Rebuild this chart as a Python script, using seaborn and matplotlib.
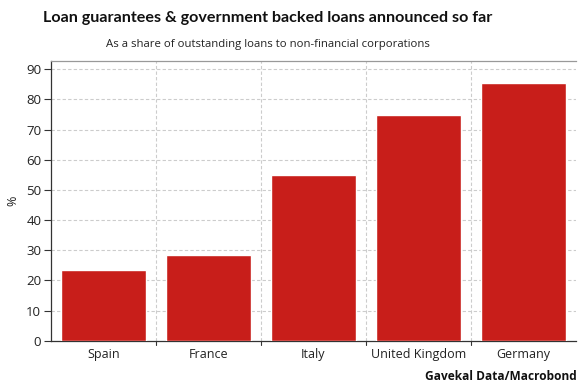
import matplotlib
matplotlib.use("Agg")
import matplotlib.pyplot as plt
import seaborn as sns
import pandas as pd

countries = ["Spain", "France", "Italy", "United Kingdom", "Germany"]
share_pct = [23.5, 28.5, 55.0, 74.7, 85.5]
y_ticks = [0, 10, 20, 30, 40, 50, 60, 70, 80, 90]

sns.set_theme(style="white")
plt.rcParams["font.family"] = ["Open Sans", "DejaVu Sans"]

df = pd.DataFrame({"country": countries, "share": share_pct})

fig = plt.figure(figsize=(5.78, 3.83), dpi=100)
ax = fig.add_axes([0.0882, 0.1104, 0.9083, 0.7311])

sns.barplot(data=df, x="country", y="share", color="#C81E1A", saturation=1,
            width=0.81, ax=ax, zorder=3)

ax.set_xlim(-0.5, len(countries) - 0.5)
ax.set_ylim(0, 92.8)
ax.set_yticks(y_ticks)
ax.set_yticklabels([str(t) for t in y_ticks], fontsize=9.5, color="#222222")
ax.set_xticks(range(len(countries)))
ax.set_xticklabels(countries, fontsize=9, color="#222222")
ax.tick_params(axis="x", length=0, pad=5)
ax.tick_params(axis="y", left=True, length=5, width=0.8, color="#333333", pad=2)

# category separators: dashed vertical gridlines with small ticks on the axis
boundaries = [i + 0.5 for i in range(len(countries) - 1)]
for b in boundaries:
    ax.axvline(b, color="#cccccc", linestyle=(0, (3, 2)), linewidth=0.8, zorder=1)
    ax.plot([b, b], [0, -1.3], color="#333333", linewidth=0.8, clip_on=False, zorder=4)

for t in y_ticks[1:]:
    ax.axhline(t, color="#cccccc", linestyle=(0, (3, 2)), linewidth=0.8, zorder=1)

for side in ["left", "bottom"]:
    ax.spines[side].set_color("#333333")
    ax.spines[side].set_linewidth(0.9)
ax.spines["top"].set_color("#999999")
ax.spines["top"].set_linewidth(0.9)
ax.spines["right"].set_visible(False)

ax.set_xlabel("")
ax.set_ylabel("%", fontsize=9, color="#222222", labelpad=5)

fig.text(0.4637, 0.953, "Loan guarantees & government backed loans announced so far",
         ha="center", va="center", fontsize=11.6, fontweight="bold", color="#111111",
         family=["Lato", "DejaVu Sans"])
fig.text(0.4637, 0.885, "As a share of outstanding loans to non-financial corporations",
         ha="center", va="center", fontsize=8.2, color="#222222")
fig.text(0.997, 0.016, "Gavekal Data/Macrobond", ha="right", va="center",
         fontsize=8.6, fontweight="bold", color="#111111")

fig.savefig("out.png", dpi=100)
